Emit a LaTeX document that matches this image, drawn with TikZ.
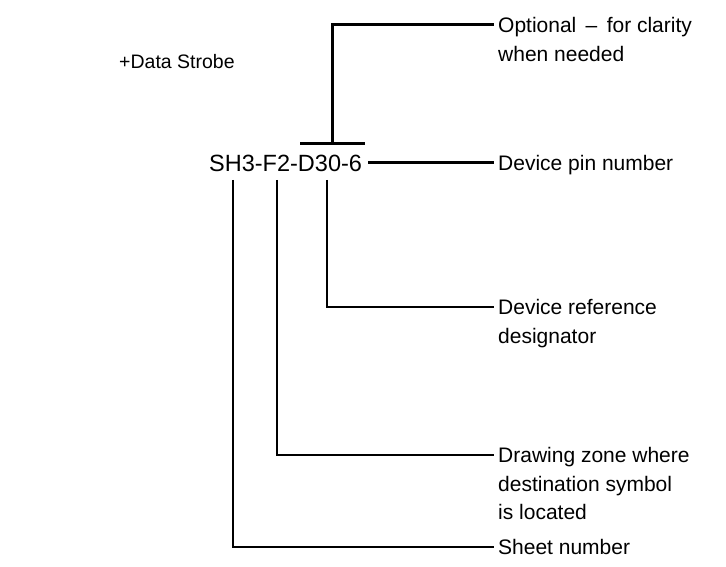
\documentclass[tikz,border=0pt]{standalone}
\usepackage{fontspec}
\setmainfont{Liberation Sans}
\begin{document}
\begin{tikzpicture}[x=1pt,y=-1pt,
  lbl/.style={anchor=base west,inner sep=0pt,align=left,font=\fontsize{21}{28.5}\selectfont},
  mlbl/.style={lbl,anchor=north west},
  lead/.style={line width=3pt},
  leg/.style={line width=2.6pt}]
\useasboundingbox (0,0) rectangle (726,567);
% free text
\node[anchor=west,inner sep=0pt,font=\fontsize{19.5}{24}\selectfont] (ds) at (119,62) {+Data Strobe};
% code
\node[anchor=west,inner sep=0pt,font=\fontsize{23.5}{28}\selectfont] (code) at (209,163) {SH3-F2-D30-6};
% labels
\node[mlbl] (opt) at (498,12.5) {\strut Optional \,--\, for clarity\\when needed};
\node[lbl] (pin) at (498,170.5) {Device pin number};
\node[mlbl] (ref) at (498,294.5) {\strut Device reference\\designator};
\node[mlbl] (zone) at (498,442.5) {\strut Drawing zone where\\destination symbol\\is located};
\node[lbl] (sheet) at (498,554.5) {Sheet number};
% anchor points
\coordinate (tl) at (300,144);
\coordinate (tr) at (365,144);
\coordinate (tm) at (332,144);
\coordinate (tc) at (332,25);
\coordinate (sA) at (233,180);
\coordinate (sB) at (233,547);
\coordinate (fA) at (277,180);
\coordinate (fB) at (277,455);
\coordinate (dA) at (327,180);
\coordinate (dB) at (327,307);
\coordinate (ce) at (368,163);
% connectors
\draw[lead] (tl) -- (tr);
\draw[lead] (tm) -- (tc) -- ([xshift=-4pt]opt.west |- tc);
\draw[lead] (ce) -- ([xshift=-4pt]pin.west |- ce);
\draw[leg] (dA) -- (dB) -- ([xshift=-4pt]ref.west |- dB);
\draw[leg] (fA) -- (fB) -- ([xshift=-4pt]zone.west |- fB);
\draw[leg] (sA) -- (sB) -- ([xshift=-4pt]sheet.west |- sB);
\end{tikzpicture}
\end{document}
